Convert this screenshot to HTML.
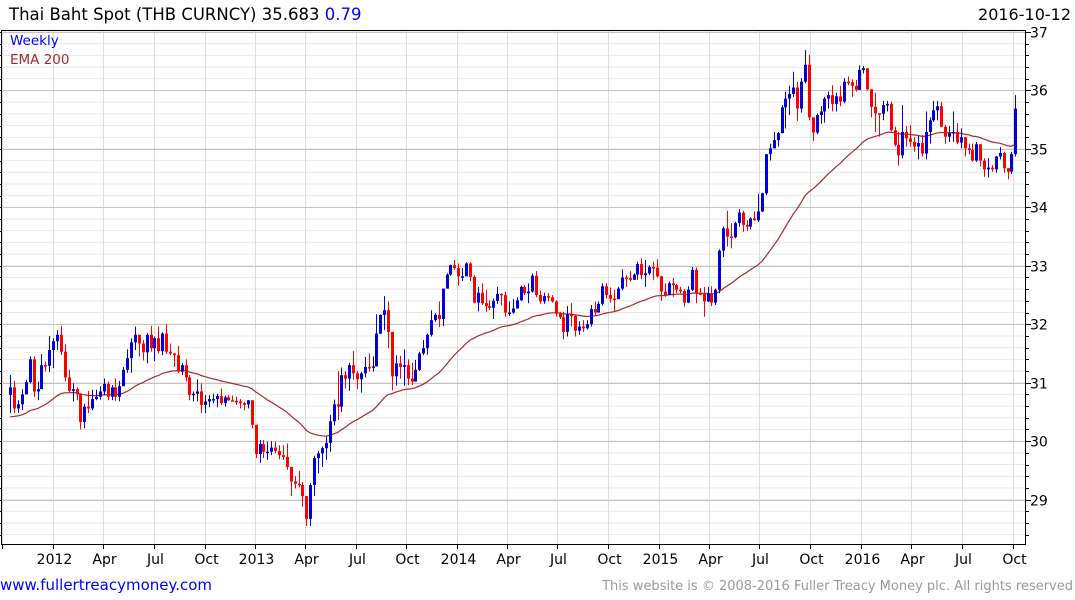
<!DOCTYPE html>
<html><head><meta charset="utf-8">
<style>
html,body{margin:0;padding:0;background:#fff;width:1075px;height:600px;overflow:hidden;font-family:"DejaVu Sans","Liberation Sans",sans-serif;}
svg{position:absolute;left:0;top:0;}
</style></head>
<body>
<svg id="chart" width="1075" height="600" viewBox="0 0 1075 600" xmlns="http://www.w3.org/2000/svg">
  <g id="grid"></g>
  <g id="ema"></g>
  <g id="candles"></g>
  <g id="axes"></g>
  <text x="9" y="20" font-size="16.5" fill="#000">Thai Baht Spot (THB CURNCY) 35.683 <tspan fill="#0000ff">0.79</tspan></text>
  <text x="1071" y="20" font-size="16" fill="#000" text-anchor="end">2016-10-12</text>
  <text x="10" y="45" font-size="13.5" fill="#0000ff">Weekly</text>
  <text x="10" y="64" font-size="13.5" fill="#a52a2a">EMA 200</text>
  <text x="0" y="590" font-size="15" fill="#0000ff">www.fullertreacymoney.com</text>
  <text x="1073" y="590" font-size="13" fill="#999" text-anchor="end">This website is © 2008-2016 Fuller Treacy Money plc. All rights reserved</text>
</svg>
<script>
const firstOpen = 30.79;
const emaSeed = 30.39;
const emaPeriod = 40;
const closes = [
30.92,30.56,30.63,30.80,31.01,31.40,30.85,30.89,31.30,31.29,
31.56,31.71,31.82,31.53,31.09,30.86,30.89,30.80,30.33,30.59,
30.56,30.72,30.76,30.85,30.98,30.76,30.92,30.76,30.94,31.22,
31.42,31.69,31.82,31.67,31.52,31.82,31.59,31.76,31.54,31.84,
31.53,31.50,31.47,31.19,31.30,31.09,30.79,30.81,30.85,30.62,
30.68,30.72,30.72,30.77,30.65,30.75,30.70,30.69,30.68,30.65,
30.63,30.70,30.28,29.78,29.95,29.82,
29.82,29.89,29.83,29.76,29.73,29.56,29.31,29.27,29.25,29.06,
28.67,29.25,29.71,29.79,29.88,29.97,30.34,30.63,30.59,31.13,
31.07,31.30,31.16,31.06,31.16,31.27,31.26,31.28,31.84,32.16,
32.24,31.87,31.11,31.33,31.27,31.30,31.07,31.02,31.22,31.50,
31.59,31.82,32.07,32.16,32.09,32.61,32.85,33.01,32.96,32.82,
32.82,33.04,32.81,32.37,32.54,32.36,32.31,32.28,32.40,32.52,
32.50,32.20,32.20,32.27,32.41,32.64,32.53,
32.56,32.83,32.50,32.39,32.48,32.46,32.39,32.18,32.12,31.87,
32.17,32.14,31.89,31.96,31.93,32.00,32.26,32.20,32.35,32.65,
32.50,32.44,32.43,32.61,32.80,32.79,32.76,32.85,33.03,32.84,
32.87,32.98,32.97,32.82,32.56,32.50,32.70,32.67,32.59,32.57,
32.37,32.59,32.93,32.53,32.52,32.39,32.53,32.37,32.59,33.26,
33.64,33.50,33.49,33.73,33.91,33.70,33.67,33.81,33.78,33.93,
34.24,
34.91,35.01,35.15,35.27,35.71,35.86,35.94,36.05,35.69,36.15,
36.44,35.54,35.28,35.58,35.64,35.86,35.92,35.77,35.90,35.81,
36.15,36.14,36.08,36.01,36.35,36.38,36.02,35.72,35.61,35.60,
35.75,35.77,35.32,35.07,34.89,35.29,35.18,35.12,35.04,35.10,
34.92,35.29,35.49,35.66,35.73,35.38,35.21,35.27,35.29,35.11,
35.20,35.01,34.98,34.80,35.08,34.80,34.65,34.68,34.65,34.87,
34.93,34.67,34.61,34.91,35.69];
const highs = [
31.13,31.03,30.70,30.89,31.05,31.45,31.45,31.02,31.49,31.36,
31.80,31.76,31.90,31.97,31.66,31.22,30.99,30.92,30.82,30.64,
30.86,30.88,30.88,30.94,31.07,31.02,30.96,31.07,31.03,31.27,
31.57,31.76,31.96,31.79,31.73,31.85,31.97,31.79,31.96,31.86,
32.00,31.67,31.51,31.63,31.33,31.40,31.13,30.85,31.06,30.99,
30.79,30.79,30.81,30.81,30.90,30.78,30.79,30.78,30.76,30.72,
30.67,30.70,30.51,30.19,30.02,30.02,
29.99,30.00,29.99,29.93,29.93,29.96,29.56,29.40,29.49,29.30,
28.98,29.28,29.75,29.83,29.91,30.08,30.45,30.71,31.20,31.26,
31.20,31.34,31.54,31.20,31.19,31.44,31.50,31.45,32.17,32.17,
32.48,32.39,31.87,31.47,31.46,31.57,31.40,31.34,31.39,31.53,
31.73,31.84,32.24,32.19,32.39,32.61,32.87,33.02,33.10,33.04,
32.96,33.06,33.06,32.84,32.64,32.70,32.59,32.41,32.44,32.64,
32.53,32.56,32.39,32.43,32.46,32.66,32.67,
32.70,32.87,32.91,32.58,32.54,32.53,32.50,32.41,32.21,32.21,
32.31,32.36,32.17,32.05,32.07,32.07,32.33,32.39,32.39,32.70,
32.70,32.63,32.59,32.64,32.94,32.84,32.91,32.87,33.07,33.13,
33.10,33.01,33.07,33.11,32.83,32.70,32.73,32.79,32.69,32.64,
32.60,32.65,32.98,32.97,32.62,32.64,32.64,32.65,32.61,33.28,
33.67,33.94,33.73,33.75,33.97,33.94,33.78,33.83,33.93,34.23,
34.25,
34.91,35.09,35.29,35.29,35.75,35.98,36.08,36.32,36.15,36.21,
36.69,36.61,35.54,35.61,35.73,35.89,35.98,36.09,35.96,36.08,
36.21,36.24,36.19,36.18,36.43,36.42,36.38,36.02,35.96,35.61,
35.82,35.82,35.81,35.38,35.29,35.75,35.39,35.41,35.20,35.22,
35.24,35.64,35.54,35.82,35.82,35.81,35.41,35.39,35.64,35.44,
35.35,35.15,35.09,35.09,35.12,35.08,34.84,34.84,34.72,34.88,
35.03,34.95,34.64,34.95,35.92];
const lows = [
30.48,30.48,30.48,30.53,30.81,30.99,30.76,30.70,30.93,31.19,
31.18,31.25,31.56,31.47,31.02,30.84,30.68,30.70,30.20,30.22,
30.48,30.53,30.70,30.71,30.79,30.70,30.70,30.69,30.68,31.02,
31.17,31.17,31.56,31.45,31.38,31.33,31.53,31.37,31.50,31.47,
31.49,31.47,31.27,31.16,31.13,31.02,30.70,30.68,30.68,30.48,
30.48,30.58,30.65,30.58,30.62,30.59,30.69,30.68,30.62,30.56,
30.53,30.56,30.22,29.71,29.63,29.71,
29.68,29.76,29.79,29.69,29.68,29.51,29.06,29.19,29.21,28.88,
28.55,28.55,29.06,29.45,29.56,29.68,29.82,30.27,30.36,30.50,
30.90,30.86,31.05,30.89,30.83,31.09,31.19,31.19,31.32,31.83,
31.90,31.59,30.87,30.95,31.07,30.95,30.96,30.96,31.04,31.20,
31.47,31.48,31.79,32.04,31.95,31.97,32.69,32.83,32.93,32.66,
32.74,32.84,32.74,32.36,32.22,32.33,32.21,32.24,32.09,32.35,
32.32,32.13,32.14,32.18,32.27,32.40,32.50,
32.36,32.54,32.46,32.35,32.35,32.39,32.37,32.13,32.09,31.74,
31.79,31.96,31.79,31.82,31.87,31.91,31.96,32.16,32.20,32.32,
32.44,32.37,32.21,32.44,32.58,32.64,32.73,32.76,32.76,32.77,
32.64,32.84,32.76,32.80,32.40,32.47,32.54,32.47,32.53,32.53,
32.30,32.36,32.57,32.36,32.50,32.13,32.38,32.31,32.33,32.53,
33.15,33.33,33.30,33.47,33.67,33.58,33.60,33.62,33.77,33.75,
33.92,
34.21,34.80,35.04,35.04,35.28,35.35,35.58,35.89,35.48,35.62,
36.12,35.49,35.14,35.25,35.43,35.45,35.69,35.64,35.64,35.73,
35.78,36.09,35.89,35.98,36.05,36.29,36.00,35.54,35.29,35.21,
35.49,35.64,35.30,35.04,34.71,34.84,35.04,35.04,34.95,34.82,
34.87,34.82,35.09,35.46,35.49,35.37,35.09,35.12,35.12,35.08,
35.01,34.87,34.91,34.78,34.78,34.70,34.52,34.51,34.61,34.59,
34.82,34.59,34.48,34.57,34.87];
const yTicks = [29,30,31,32,33,34,35,36,37];
const xTickDates = ["2011-10-01","2012-01-01","2012-04-01","2012-07-01","2012-10-01","2013-01-01","2013-04-01","2013-07-01","2013-10-01","2014-01-01","2014-04-01","2014-07-01","2014-10-01","2015-01-01","2015-04-01","2015-07-01","2015-10-01","2016-01-01","2016-04-01","2016-07-01","2016-10-01"];
const xTickLabels = ["","2012","Apr","Jul","Oct","2013","Apr","Jul","Oct","2014","Apr","Jul","Oct","2015","Apr","Jul","Oct","2016","Apr","Jul","Oct"];

const NS="http://www.w3.org/2000/svg";
const L=1,R=1025,T=30,B=544;
const N=closes.length;
function xScale(i){return 10.3+i*(1015.3-10.3)/(N-1);}
function yScale(p){return 32+(37-p)*58.45;}
function xDate(s){const d=(Date.parse(s)-Date.parse("2016-01-01"))/86400000;return 861+d*0.553;}
function mk(tag,attrs,parent){const e=document.createElementNS(NS,tag);for(const k in attrs)e.setAttribute(k,attrs[k]);parent.appendChild(e);return e;}

const grid=document.getElementById('grid');
// minor horizontal
for(let v=28.4;v<=37.01;v+=0.2){
  const y=yScale(v); if(y<T||y>B)continue;
  const ln=mk('line',{x1:L,x2:R,y1:y,y2:y,stroke:'#e9e9e9','stroke-width':1},grid);
  
  
}
xTickDates.forEach((d,k)=>{
  const x=Math.round(xDate(d))+0.5;
  const ln=mk('line',{x1:x,x2:x,y1:T,y2:B,stroke:'#dcdcdc','stroke-width':1},grid);
  
  
});
yTicks.forEach(v=>{
  const y=Math.round(yScale(v))+0.5;
  const ln=mk('line',{x1:L,x2:R,y1:y,y2:y,stroke:'#c2c2c2','stroke-width':1},grid);
  
  
});

// EMA
const emaVals=[];let e=emaSeed;const a=2/(emaPeriod+1);
for(let i=0;i<N;i++){e=e+a*(closes[i]-e);emaVals.push(e);}
const emaG=document.getElementById('ema');
const ep=mk('polyline',{points:emaVals.map((v,i)=>xScale(i).toFixed(1)+','+yScale(v).toFixed(1)).join(' '),fill:'none',stroke:'#a52a2a','stroke-width':1.2},emaG);



// candles
const cg=document.getElementById('candles');
for(let i=0;i<N;i++){
  const o=i===0?firstOpen:closes[i-1], c=closes[i];
  const hi=Math.max(highs[i],o,c), lo=Math.min(lows[i],o,c);
  const col=c>=o?'#0000dd':'#ff0000';
  const x=Math.round(xScale(i));
  const g=mk('g',{},cg);
  
  
  mk('rect',{x:x,y:yScale(hi),width:1,height:Math.max(1,yScale(lo)-yScale(hi)),fill:col},g);
  const yt=yScale(Math.max(o,c)), yb=yScale(Math.min(o,c));
  mk('rect',{x:x-1,y:yt,width:3,height:Math.max(1.5,yb-yt),fill:col},g);
}

// axes
const ax=document.getElementById('axes');
const fr=mk('path',{d:`M${L+0.5},${T+0.5} H${R+0.5} V${B+0.5} H${L+0.5} Z`,fill:'none',stroke:'#000','stroke-width':1},ax);


for(let v=28.4;v<=37.01;v+=0.2){
  const y=Math.round(yScale(v))+0.5; if(y<T||y>B+1)continue;
  mk('line',{x1:R,x2:R+4,y1:y,y2:y,stroke:'#000'},ax);
  mk('line',{x1:0,x2:L,y1:y,y2:y,stroke:'#000'},ax);
}
yTicks.forEach(v=>{
  const y=Math.round(yScale(v))+0.5;
  mk('line',{x1:R,x2:R+6,y1:y,y2:y,stroke:'#000'},ax);
  const t=mk('text',{x:1030,y:y+5,'font-size':14,fill:'#000'},ax);
  t.textContent=String(v);
  
  
});
xTickDates.forEach((d,k)=>{
  const x=Math.round(xDate(d))+0.5;
  mk('line',{x1:x,x2:x,y1:B,y2:B+5,stroke:'#000'},ax);
  if(xTickLabels[k]){
    const t=mk('text',{x:x+1,y:564,'font-size':14,fill:'#000','text-anchor':'middle'},ax);
    t.textContent=xTickLabels[k];
    
    
  }
});
</script>
</body></html>
